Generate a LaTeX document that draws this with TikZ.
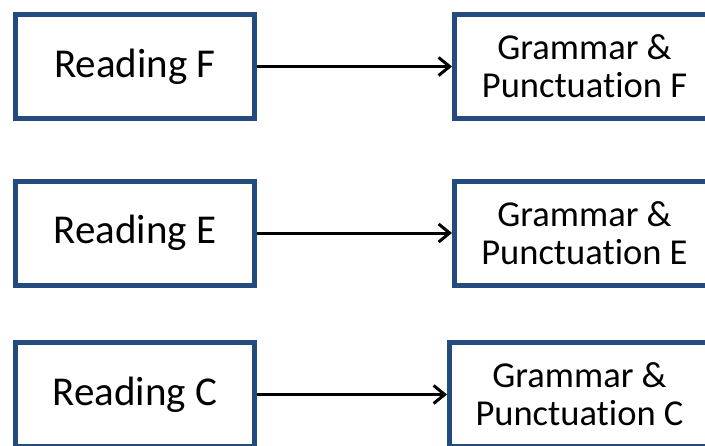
\documentclass[tikz,border=0pt]{standalone}
\usepackage{fontspec}
\setmainfont{Carlito}[Ligatures={NoCommon}]
\usetikzlibrary{arrows.meta}
\definecolor{boxblue}{RGB}{35,75,125}
\tikzset{
  rbox/.style={draw=boxblue, line width=5pt, fill=white, minimum width=239pt, minimum height=104pt, inner sep=0pt, font=\fontsize{41pt}{44pt}\selectfont},
  gbox/.style={draw=boxblue, line width=5pt, fill=white, minimum width=260pt, minimum height=104pt, inner sep=0pt, align=center, font=\fontsize{36.5pt}{38pt}\selectfont},
  arr/.style={line width=3pt, -{Straight Barb[length=11pt, width=18pt, line width=3pt]}}
}
\begin{document}
\begin{tikzpicture}[x=1pt,y=1pt]
\useasboundingbox (0,0) rectangle (705,-445);
\clip (0,0) rectangle (705,-445);
\node[rbox] (r1) at (135,-66.5) {Reading F};
\node[rbox] (r2) at (135,-233) {Reading E};
\node[rbox] (r3) at (135,-394.5) {Reading C};
\node[gbox] (g1) at (584.5,-66.5) {Grammar \&\\Punctuation F};
\node[gbox] (g2) at (584.5,-233) {Grammar \&\\Punctuation E};
\node[gbox] (g3) at (579.5,-394.5) {Grammar \&\\Punctuation C};
\draw[arr] (r1) -- (g1);
\draw[arr] (r2) -- (g2);
\draw[arr] (r3) -- (g3);
\end{tikzpicture}
\end{document}
